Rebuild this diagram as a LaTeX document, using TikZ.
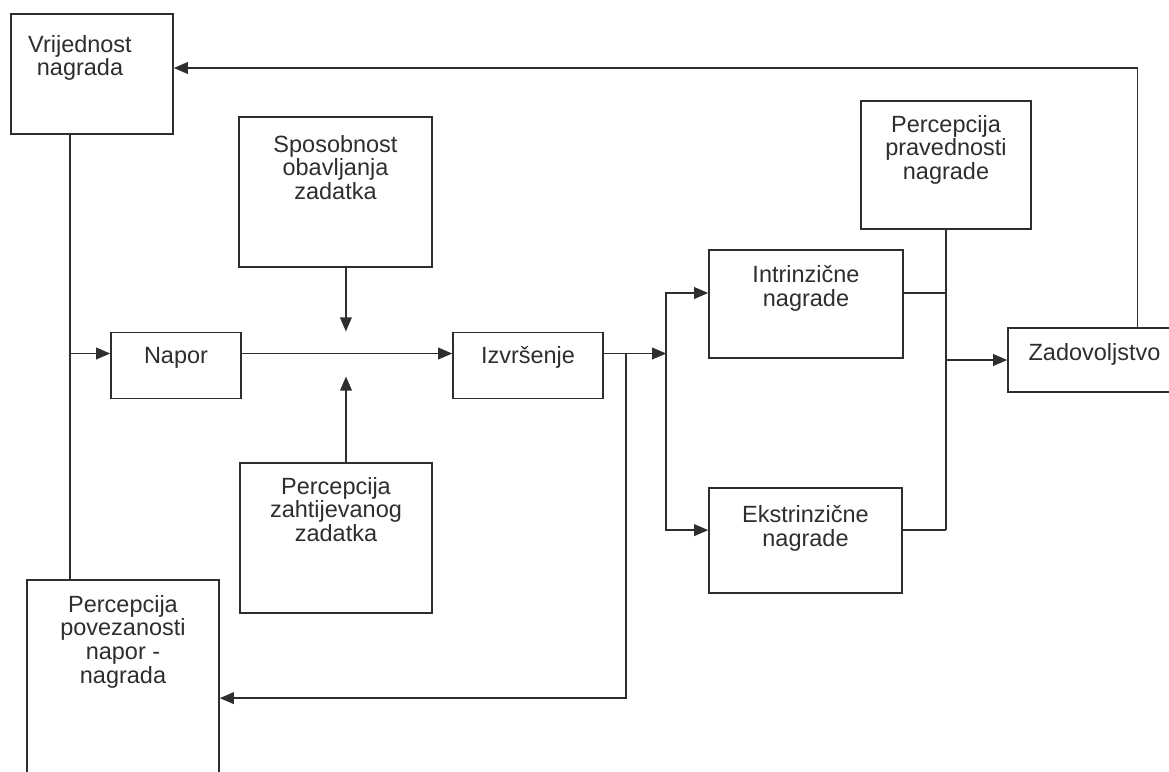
\documentclass[tikz,border=0pt]{standalone}
\usepackage{fontspec}
\setmainfont{Liberation Sans}
\usetikzlibrary{
		calc,
		positioning,
		arrows.meta
	}
\tikzset{
		>={Triangle[length=3.5mm,width=2.9mm]}
	}
\definecolor{ink}{HTML}{2E2E2E}

\begin{document}
\begin{tikzpicture}[x=0.025cm, y=-0.025cm, line width=1.1pt, ink,
		box/.style={draw, ink, line width=1.1pt, inner sep=0pt},
		txt/.style={anchor=north, align=center, inner sep=0pt, text=ink, font=\fontsize{16.7}{17}\selectfont}]
		\useasboundingbox[fill=white] (0,0) rectangle (1169,771);
		% boxes
		\node[box, minimum width=40.5mm, minimum height=30mm, label={[txt, xshift=-3mm, yshift=-5.25mm]north:{Vrijednost\\nagrada}}] (vrij) at (92,74) {};
		\node[box, minimum width=32.5mm, minimum height=16.5mm, label={[txt, yshift=-3.75mm]north:Napor}] (napor) at (176,365.5) {};
		\node[box, minimum width=48.25mm, minimum height=37.5mm, label={[txt, yshift=-4.5mm]north:{Sposobnost\\obavljanja\\zadatka}}] (spos) at (335.5,192) {};
		\node[box, minimum width=48mm, minimum height=37.5mm, label={[txt, yshift=-3.5mm]north:{Percepcija\\zahtijevanog\\zadatka}}] (perczad) at (336,538) {};
		\node[box, minimum width=37.5mm, minimum height=16.5mm, label={[txt, yshift=-3.5mm]north:Izvršenje}] (izvr) at (528,365.5) {};
		\node[box, minimum width=48.5mm, minimum height=27mm, label={[txt, yshift=-3.75mm]north:{Intrinzične\\nagrade}}] (intr) at (806,304) {};
		\node[box, minimum width=48.25mm, minimum height=26.25mm, label={[txt, yshift=-4.25mm]north:{Ekstrinzične\\nagrade}}] (ekstr) at (805.5,540.5) {};
		\node[box, minimum width=42.5mm, minimum height=32mm, label={[txt, yshift=-3.5mm]north:{Percepcija\\pravednosti\\nagrade}}] (pravedn) at (946,165) {};
		\node[box, minimum width=44.25mm, minimum height=16mm, label={[txt, xshift=-0.5mm, yshift=-3.75mm]north:Zadovoljstvo}] (zadov) at (1096.5,360) {};
		\node[box, minimum width=48mm, minimum height=51.25mm, label={[txt, yshift=-3.75mm]north:{Percepcija\\povezanosti\\napor -\\nagrada}}] (perpov) at (123,682.5) {};
		% points on the lines
		\coordinate (lv) at ([xshift=-5.5mm]vrij.south);
		\coordinate (nin) at ([yshift=3mm]napor.west);
		\coordinate (nout) at ([yshift=3mm]napor.east);
		\coordinate (izin) at ([yshift=3mm]izvr.west);
		\coordinate (izout) at ([yshift=3mm]izvr.east);
		\coordinate (sp) at ([xshift=2.6mm]spos.south);
		\coordinate (pz) at ([xshift=2.5mm]perczad.north);
		\coordinate (fb) at ([xshift=5.5mm]izout);
		\coordinate (br) at ([xshift=-10.5mm]intr.west);
		\coordinate (iin) at ([yshift=2.75mm]intr.west);
		\coordinate (iout) at ([yshift=2.75mm]intr.east);
		\coordinate (ein) at ([yshift=2.6mm]ekstr.west);
		\coordinate (eout) at ([yshift=2.6mm]ekstr.east);
		\coordinate (pin) at ([yshift=-3.9mm]perpov.east);
		\coordinate (ztop) at ([xshift=10.25mm]zadov.north);
		\coordinate (vin) at ([yshift=1.5mm]vrij.east);
		% connectors
		\draw (lv) -- (lv |- perpov.north);
		\draw[->] (lv |- nin) -- (nin);
		\draw[->] (nout) -- (izin);
		\draw[->, shorten >=5.5mm] (sp) -- (sp |- nin);
		\draw[->, shorten >=5.75mm] (pz) -- (pz |- nin);
		\draw[->] (izout) -- (izout -| br);
		\draw[<->] (iin) -- (iin -| br) -- (ein -| br) -- (ein);
		\draw[->] (fb) |- (pin);
		\draw (iout) -- (iout -| pravedn.south);
		\draw (eout) -- (eout -| pravedn.south);
		\draw (pravedn.south) -- (pravedn.south |- eout);
		\draw[->] (pravedn.south |- zadov.west) -- (zadov.west);
		\draw[->] (ztop) |- (vin);
	\end{tikzpicture}
\end{document}
